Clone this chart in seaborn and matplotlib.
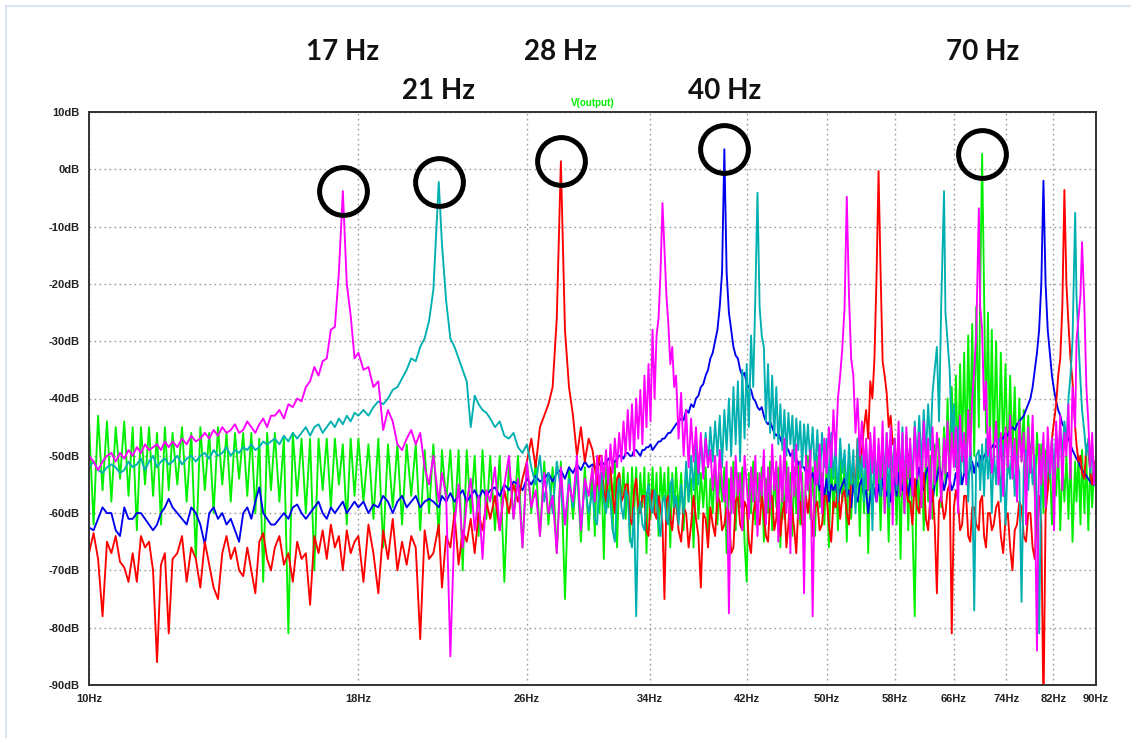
import matplotlib
matplotlib.use("Agg")
import matplotlib.pyplot as plt
from matplotlib.patches import Rectangle
from matplotlib.ticker import FixedLocator, NullLocator
import numpy as np
import pandas as pd
import seaborn as sns

# FFT bins (Hz) shared by every step
freq_hz = [
    # 10-12
    10.0, 10.1, 10.2, 10.3, 10.4, 10.5, 10.6, 10.7, 10.8, 10.9,
    11.0, 11.1, 11.2, 11.3, 11.4, 11.5, 11.6, 11.7, 11.8, 11.9,
    # 12-15
    12.0, 12.125, 12.25, 12.375, 12.5, 12.625, 12.75, 12.875, 13.0, 13.125,
    13.25, 13.375, 13.5, 13.625, 13.75, 13.875, 14.0, 14.125, 14.25, 14.375,
    14.5, 14.625, 14.75, 14.875,
    # 15-18
    15.0, 15.15, 15.3, 15.45, 15.6, 15.75, 15.9, 16.05, 16.2, 16.35,
    16.5, 16.65, 16.8, 16.95, 17.1, 17.25, 17.4, 17.55, 17.7, 17.85,
    # 18-24
    18.0, 18.2, 18.4, 18.6, 18.8, 19.0, 19.2, 19.4, 19.6, 19.8,
    20.0, 20.2, 20.4, 20.6, 20.8, 21.0, 21.2, 21.45, 21.6, 21.8,
    22.0, 22.2, 22.4, 22.6, 22.8, 23.0, 23.2, 23.4, 23.6, 23.8,
    # 24-30
    24.0, 24.25, 24.5, 24.75, 25.0, 25.25, 25.5, 25.75, 26.0, 26.25,
    26.5, 26.75, 27.0, 27.25, 27.5, 27.75, 28.0, 28.25, 28.5, 28.75,
    29.0, 29.25, 29.5, 29.75,
    # 30-36
    30.0, 30.15, 30.3, 30.45, 30.6, 30.75, 30.9, 31.05, 31.2, 31.35,
    31.5, 31.65, 31.8, 31.95, 32.1, 32.25, 32.4, 32.55, 32.7, 32.85,
    33.0, 33.15, 33.3, 33.45, 33.6, 33.75, 33.9, 34.05, 34.2, 34.35,
    34.5, 34.65, 34.8, 34.95, 35.1, 35.25, 35.4, 35.55, 35.7, 35.85,
    # 36-48
    36.0, 36.2, 36.4, 36.6, 36.8, 37.0, 37.2, 37.4, 37.6, 37.8,
    38.0, 38.2, 38.4, 38.6, 38.8, 39.0, 39.2, 39.4, 39.6, 39.8,
    40.0, 40.2, 40.4, 40.6, 40.8, 41.0, 41.2, 41.4, 41.6, 41.8,
    42.0, 42.2, 42.4, 42.6, 42.8, 43.0, 43.2, 43.4, 43.6, 43.8,
    44.0, 44.2, 44.4, 44.6, 44.8, 45.0, 45.2, 45.4, 45.6, 45.8,
    46.0, 46.2, 46.4, 46.6, 46.8, 47.0, 47.2, 47.4, 47.6, 47.8,
    # 48-60
    48.0, 48.25, 48.5, 48.75, 49.0, 49.25, 49.5, 49.75, 50.0, 50.25,
    50.5, 50.75, 51.0, 51.25, 51.5, 51.75, 52.0, 52.25, 52.5, 52.75,
    53.0, 53.25, 53.5, 53.75, 54.0, 54.25, 54.5, 54.75, 55.0, 55.25,
    55.5, 55.75, 56.0, 56.25, 56.5, 56.75, 57.0, 57.25, 57.5, 57.75,
    58.0, 58.25, 58.5, 58.75, 59.0, 59.25, 59.5, 59.75,
    # 60-72
    60.0, 60.3, 60.6, 60.9, 61.2, 61.5, 61.8, 62.1, 62.4, 62.7,
    63.0, 63.3, 63.6, 63.9, 64.2, 64.6, 64.8, 65.1, 65.4, 65.7,
    66.0, 66.3, 66.6, 66.9, 67.2, 67.5, 67.8, 68.1, 68.4, 68.7,
    69.0, 69.3, 69.7, 69.9, 70.2, 70.5, 70.8, 71.1, 71.4, 71.7,
    # 72-90
    72.0, 72.375, 72.75, 73.125, 73.5, 73.875, 74.25, 74.625, 75.0, 75.375,
    75.75, 76.125, 76.5, 76.875, 77.25, 77.625, 78.0, 78.375, 78.75, 79.125,
    79.5, 79.875, 80.25, 80.625, 81.0, 81.375, 81.75, 82.125, 82.5, 82.875,
    83.25, 83.625, 84.0, 84.375, 84.75, 85.125, 85.5, 86.0, 86.25, 86.625,
    87.0, 87.3, 87.75, 88.125, 88.5, 88.875, 89.25, 89.625, 90.0,
]

# V(output) in dB for each of the five stepped runs (same bin order as above)
green_db = [
    -44, -62, -43, -56, -44, -58, -45, -54, -44, -57, -45, -63, -45, -55, -45, -57, -46, -62, -45, -56,
    -46, -55, -45, -58, -46, -68, -45, -56, -46, -60, -45, -55, -46, -58, -46, -54, -46, -57, -46, -60,
    -47, -72, -46, -56,
    -46, -58, -47, -81, -46, -57, -47, -60, -47, -70, -47, -56, -47, -59, -47, -55, -48, -62, -47, -57,
    -47, -58, -48, -61, -47, -66, -48, -59, -48, -62, -48, -57, -48, -63, -49, -60, -48, -64, -49, -58,
    -49, -62, -49, -70, -49, -60, -50, -64, -49, -61,
    -50, -63, -50, -72, -51, -61, -50, -66, -51, -60, -51, -64, -51, -62, -52, -67, -51, -75, -52, -61,
    -52, -65, -52, -63,
    -52, -64, -51, -60, -53, -68, -52, -59, -52, -63, -51, -66, -53, -58, -52, -61, -53, -65, -52, -60,
    -52, -62, -53, -59, -52, -67, -53, -61, -52, -60, -53, -64, -52, -58, -53, -62, -52, -66, -53, -60,
    -52, -60, -53, -63, -52, -58, -54, -66, -51, -61, -53, -59, -52, -64, -54, -60, -51, -62, -53, -58,
    -52, -67, -54, -60, -51, -63, -53, -59, -52, -65, -72, -53, -60, -51, -62, -53, -58, -52, -65, -54,
    -60, -51, -63, -53, -59, -52, -66, -54, -61, -51, -58, -53, -64, -52, -60, -51, -62, -53, -67, -52,
    -50, -61, -52, -64, -50, -59, -53, -62, -51, -66, -50, -60, -52, -63, -50, -58, -51, -65, -50, -61,
    -52, -59, -50, -64, -51, -60, -50, -67, -52, -61, -50, -58, -51, -63, -50, -60, -52, -65, -50, -59,
    -51, -62, -50, -68, -51, -60, -50, -63,
    -50, -62, -78, -51, -60, -50, -63, -49, -58, -50, -61, -48, -57, -47, -59, -45, -55, -40, -52, -38,
    -50, -36, -53, -34, -49, -32, -51, -29, -47, -27, -50, -24, -45, -21, 2.7, -22, -46, -25, -49, -28,
    -50, -30, -52, -32, -49, -34, -53, -36, -50, -38, -54, -40, -51, -42, -55, -43, -52, -45, -57, -46,
    -53, -48, -60, -49, -56, -50, -62, -50, -57, -49, -63, -51, -58, -50, -61, -49, -65, -51, -58, -50,
    -62, -49, -60, -50, -63, -51, -59, -52, -56,
]
blue_db = [
    -62.5, -63, -61, -59, -60, -60, -63, -64, -59, -61, -61, -60, -60, -61, -62, -63, -62, -60, -59, -57.5,
    -59, -60, -61, -62, -59, -60, -62, -65.5, -60, -59, -61, -60, -62, -61, -63, -65, -60, -59, -61, -58,
    -55.5, -60, -61, -62,
    -62, -61, -60, -61, -59, -58.5, -60, -61, -60, -59, -58, -60, -61, -59, -60, -59, -58, -60, -59, -58,
    -59, -58, -60, -58.5, -59, -57, -58, -60, -58, -57, -59, -58, -57, -59, -58, -57.5, -58, -59, -57, -58,
    -56.5, -58, -57, -56, -58, -57, -56, -57.5, -56, -57,
    -56, -55.5, -57, -55, -56, -54.5, -55, -56, -54, -55, -53.5, -54.5, -54, -53, -54.5, -53, -52.5, -54, -52, -53,
    -51.5, -52.5, -51, -52,
    -51.5, -52, -52, -51.5, -51, -51.5, -51.5, -50.5, -50.5, -51, -51, -50.5, -50, -50, -50.5, -49.5, -49.5, -50, -50, -49,
    -49, -49.5, -50, -49, -49, -48.5, -48.5, -48, -49, -48.5, -48, -47.5, -47.5, -47, -47, -46.5, -46, -46, -45.5, -45,
    -44.5, -44, -43.5, -43.8, -42, -42.5, -41, -41.5, -40, -39.5, -38, -37.5, -36, -35, -33, -32, -30, -28, -24, -18,
    3.5, -18, -25, -28, -31, -32.5, -33, -35, -36, -35.5, -37.5, -38, -38.5, -40, -40.5, -41.5, -42, -41.5, -43, -44,
    -44.5, -44, -45, -46, -46.5, -46, -47, -48, -48, -48.5, -49, -50, -49.5, -50.5, -50.5, -51.5, -51, -52, -52, -53,
    -52.5, -54, -53, -55, -53, -56, -54, -57, -54, -58, -55, -56, -55, -58, -56, -55, -54, -57, -56, -59,
    -55, -57, -58, -55, -54, -57, -56, -60, -57, -55, -56, -58, -55, -57, -54, -56, -57, -55, -58, -56,
    -54, -57, -53, -55, -56, -54, -55, -57,
    -54, -56, -57, -54, -52, -55, -56, -53, -52, -55, -58, -55, -54, -52, -53, -56, -55, -53, -54, -56,
    -55, -53, -54, -52, -55, -53, -52, -54, -52, -51, -53, -51, -52, -50, -51, -50, -49.5, -50, -49, -48.5,
    -48, -48.5, -47.5, -47, -47, -46, -46.5, -45.5, -45, -45.5, -44.5, -44, -43.5, -43, -42, -41, -40, -38, -35, -32,
    -28, -20, -2, -20, -28, -32, -36, -38.5, -40.5, -42, -43, -44.5, -45, -46.5, -47, -48, -49, -50, -50.5, -51,
    -52, -52.5, -53, -53.5, -54, -54.5, -55, -55, -55,
]
red_db = [
    -67, -63.5, -68, -78, -65, -67, -64, -68.5, -69.5, -72, -67, -72, -64, -66, -65, -70, -86, -69, -67, -81,
    -68, -67, -64, -72, -66, -68, -73, -65, -69, -73, -75, -67, -64, -68, -66, -70, -71, -66, -70, -74,
    -65, -63.5, -68, -70,
    -66, -64, -69, -67, -72, -65, -68, -67, -76, -64, -67, -63, -68, -62, -66, -64, -70, -63, -67, -65,
    -64, -72, -62, -67, -74, -63, -68, -61, -70, -65, -69, -64, -66, -82, -63, -68, -67, -62, -73, -64,
    -66, -60, -69, -63, -65, -61, -67, -60, -63, -58,
    -61, -57, -63, -56, -60, -55, -58, -54, -51, -47, -52, -45, -43, -41, -38, -26, 1.4, -28, -38, -43,
    -50, -45, -51, -47,
    -49, -52, -55, -50, -50, -56, -58, -53, -52, -57, -60, -54, -53, -58, -57, -55, -55, -61, -62, -56,
    -54, -59, -60, -57, -57, -63, -64, -58, -56, -60, -61, -57, -59, -62, -75, -58, -57, -61, -63, -59,
    -58, -63, -65, -59, -60, -66, -62, -57, -61, -64, -73, -60, -61, -66, -59, -62, -64, -57, -58, -63,
    -62, -59, -60, -67, -66, -58, -57, -62, -63, -58, -59, -65, -67, -60, -58, -61, -62, -57, -60, -64,
    -65, -58, -57, -63, -61, -56, -64, -60, -58, -66, -62, -57, -60, -63, -67, -59, -58, -62, -63, -57,
    -60, -56, -64, -59, -58, -63, -62, -57, -57, -62, -65, -58, -59, -55, -61, -57, -56, -60, -62, -54,
    -52, -56, -47, -52, -49, -45, -42, -47, -37, -40, -33, -19, -0.3, -18, -33.5, -36, -39, -45, -43, -48,
    -47, -52, -48, -55, -53, -51, -56, -58,
    -58, -62, -54, -59, -60, -55, -53, -61, -63, -57, -56, -62, -74, -58, -57, -61, -60, -56, -55, -81,
    -59, -56, -58, -63, -62, -57, -57, -64, -65, -59, -59, -62, -63, -58, -57, -64, -66, -60, -60, -63,
    -62, -59, -58, -64, -67, -61, -60, -66, -70, -63, -62, -58, -59, -64, -65, -60, -60, -66, -68, -59,
    -57, -62, -95, -60, -56, -52, -47, -44, -41, -36, -33, -24, -3.6, -20, -27, -33, -37, -45, -48, -51,
    -50, -53, -54, -48, -49, -53, -55, -51, -53,
]
cyan_db = [
    -52, -51, -52.5, -53, -52, -51.5, -52, -53, -52.5, -51, -52, -51.5, -50.5, -52.5, -51, -50, -52, -51, -50.5, -51.5,
    -51, -50, -51.5, -50.5, -50, -51, -50, -49.5, -50.5, -49, -50, -49.5, -48.5, -50, -49, -49.5, -48.5, -49, -48, -49,
    -48.5, -47.5, -48, -47.5,
    -47, -48, -46.5, -47.5, -46, -47, -46, -45, -46.5, -45, -44.5, -46, -45, -44, -45, -43.5, -44.5, -43, -44, -42.5,
    -43, -42, -43, -41.5, -40.5, -41, -40, -38.5, -38, -36.5, -35, -33, -33.5, -31, -29.5, -26.5, -21, -2.2, -13, -23,
    -29.5, -31, -33, -35, -37, -45, -39.5, -41, -42, -42.5,
    -43.5, -45, -44, -46.5, -47, -46, -48.5, -49.5, -48, -52, -55, -50, -58, -53, -60, -51, -56, -62, -54, -59,
    -52, -63, -55, -60,
    -56, -61, -62, -55, -53, -58, -60, -56, -58, -63, -65, -57, -54, -59, -61, -56, -57, -64, -66, -59,
    -78, -60, -58, -62, -63, -57, -55, -59, -60, -56, -57, -62, -64, -58, -57, -61, -62, -55, -54, -59,
    -57, -62, -55, -60, -51, -58, -50, -56, -48, -55, -47, -53, -46, -52, -45, -51, -44, -50, -43, -52,
    -42, -49, -40, -50, -38, -48, -37, -51, -35, -47, -34, -45, -29, -38, -22, -4.1, -24, -29, -31, -44,
    -34, -46, -36, -47, -38, -48, -41, -49, -42, -50, -42.5, -48, -43, -51, -43.5, -49, -44, -52, -44.5, -50,
    -44.5, -51, -45, -53, -45.5, -55, -46, -52, -47, -56, -46, -54, -48, -58, -47, -53, -49, -57, -48, -55,
    -49, -60, -47, -54, -50, -58, -48, -56, -47, -63, -49, -55, -48, -57, -47, -54, -46, -59, -48, -53,
    -47, -56, -46, -55, -45, -58, -46, -53,
    -48, -54, -44, -51, -43, -52, -42, -50, -41, -49, -39, -35, -31, -44, -24, -3.8, -25, -30, -35, -47,
    -41, -52, -45, -55, -46, -53, -48, -58, -47, -54, -77, -50, -49, -56, -48, -57, -47, -54, -49, -60,
    -49, -55, -47, -58, -48, -62, -50, -54, -48, -57, -50, -53, -75.5, -52, -49, -56, -48, -55, -50, -58,
    -81, -52, -50, -56, -48, -54, -47, -53, -46, -51, -45, -50, -44, -48, -40, -36, -30, -7.6, -22, -30,
    -37, -42, -46, -50, -47, -53, -48, -55, -51,
]
magenta_db = [
    -50, -51, -52.5, -51, -50, -49.5, -51, -49.5, -50.5, -49, -50, -48.5, -49.5, -48, -49, -48.5, -48, -49, -47.5, -48.5,
    -47.5, -48.5, -47, -48, -46.5, -47.5, -47, -46, -47, -45.5, -46.5, -45, -46, -45.5, -44.5, -46, -45.5, -44, -45, -46,
    -44.5, -43.5, -45, -43,
    -43, -42, -43.5, -41, -41.5, -40, -40.5, -38, -37, -34.5, -36, -33.5, -33, -28, -27.5, -18, -3.8, -20, -25.5, -33,
    -32, -35, -34.5, -38, -37, -45.5, -42, -44, -48, -49, -47, -45.5, -48, -46, -52, -55, -50, -58, -53, -57,
    -85, -62, -55, -66, -58, -54, -63, -57, -68, -56,
    -58, -52, -63, -55, -50, -61, -54, -66, -51, -59, -56, -64, -53, -60, -57, -67, -52, -62, -55, -58,
    -50, -63, -54, -57,
    -52, -58, -50, -56, -50, -54, -49, -55, -48, -53, -47, -52, -46, -51, -44, -50, -42, -49, -41, -50,
    -40, -47, -38.5, -48, -36, -45, -34, -44, -28, -40, -29, -26, -18, -5.9, -14, -22, -27, -34, -31, -38,
    -36, -47, -39, -50, -42, -52, -43.5, -51, -45, -53, -46, -54, -47, -52, -49, -56, -50, -58, -49, -55,
    -58, -51, -77.5, -52, -60, -50, -57, -53, -63, -50, -55, -61, -52, -58, -50, -64, -53, -57, -49, -62,
    -52, -59, -48, -56, -51, -65, -50, -58, -47, -60, -52, -67, -49, -57, -48, -61, -51, -56, -74, -50,
    -56, -49, -78, -51, -55, -48, -60, -47, -53, -45, -52, -42, -50, -40, -36, -31, -24, -4.8, -22, -33,
    -36, -46, -40, -50, -44, -52, -47, -56, -46, -53, -45, -58, -47, -54, -44, -60, -46, -52, -45, -62,
    -47, -55, -44, -57, -46, -60, -45, -54,
    -47, -57, -45, -54, -46, -59, -44, -52, -47, -61, -45, -55, -46, -50, -58, -47, -53, -44, -56, -46,
    -52, -45, -60, -43, -51, -46, -55, -42, -50, -40, -35, -29, -6.8, -24, -28, -42, -37, -50, -45, -53,
    -50, -44, -55, -46, -57, -45, -52, -43, -54, -47, -58, -44, -51, -46, -62, -45, -53, -43, -56, -84,
    -48, -55, -46, -59, -45, -53, -47, -63, -44, -52, -43, -56, -46, -50, -41, -54, -38, -45, -30, -26,
    -22, -12.7, -24, -38, -44, -52, -46, -55, -50,
]

step_names = ["green", "blue", "red", "cyan", "magenta"]
step_colors = {"green": "#00f000", "blue": "#0000f0", "red": "#ff0000",
               "cyan": "#00b0b0", "magenta": "#ff00ff"}
label_row = {"green": 0, "blue": 1, "red": 0, "cyan": 1, "magenta": 0}
row_y = [1.105, 1.037]

xtick_hz = [10, 18, 26, 34, 42, 50, 58, 66, 74, 82, 90]
ytick_db = [-90, -80, -70, -60, -50, -40, -30, -20, -10, 0, 10]

series = {"green": green_db, "blue": blue_db, "red": red_db,
          "cyan": cyan_db, "magenta": magenta_db}
for name, vals in series.items():
    if len(vals) != len(freq_hz):
        raise SystemExit(f"{name}: {len(vals)} values vs {len(freq_hz)} bins")

df = pd.concat(
    [pd.DataFrame({"hz": freq_hz, "db": vals, "step": name}) for name, vals in series.items()],
    ignore_index=True,
)

sns.set_style("white")
plt.rcParams["font.family"] = ["Liberation Sans", "DejaVu Sans"]

fig = plt.figure(figsize=(11.31, 7.38), dpi=100)
fig.patches.append(Rectangle((6, -20), 1300, 738 - 6 + 20, transform=None,
                             fill=False, edgecolor="#dde5f2", linewidth=1.5))
ax = fig.add_axes([89 / 1131, 53 / 738, 1007 / 1131, 573 / 738])

sns.lineplot(data=df, x="hz", y="db", hue="step", hue_order=step_names,
             palette=step_colors, estimator=None, sort=False, legend=False,
             linewidth=1.35, ax=ax)

ax.set_xscale("log")
ax.set_xlim(10, 90)
ax.set_ylim(-90, 10)
ax.xaxis.set_major_locator(FixedLocator(xtick_hz))
ax.xaxis.set_minor_locator(NullLocator())
ax.set_xticklabels([f"{v}Hz" for v in xtick_hz], fontweight="bold", fontsize=8)
ax.set_yticks(ytick_db)
ax.set_yticklabels([f"{v}dB" for v in ytick_db], fontweight="bold", fontsize=8)
ax.tick_params(axis="both", direction="out", length=5, width=1.3,
               color="#333333", labelcolor="#222222", pad=1.5)
ax.set_xlabel("")
ax.set_ylabel("")
ax.grid(True, color="#9a9a9a", linestyle=(0, (1.2, 2.4)), linewidth=1.0)
ax.set_axisbelow(True)
for sp in ax.spines.values():
    sp.set_color("#333333")
    sp.set_linewidth(1.4)

# circle the strongest peak of each step and name it
for name, vals in series.items():
    i = int(np.argmax(vals))
    hz, db = freq_hz[i], vals[i]
    ax.plot([hz], [db], marker="o", markersize=34.4, markerfacecolor="none",
            markeredgecolor="black", markeredgewidth=3.6, zorder=6, clip_on=False)
    ax.text(hz, row_y[label_row[name]], f"{hz:.0f} Hz", transform=ax.get_xaxis_transform(),
            ha="center", va="center", fontsize=20, fontweight="bold", family="Lato",
            color="#111111", clip_on=False)

ax.text(0.5, 1.016, "V(output)", transform=ax.transAxes, ha="center", va="center",
        fontsize=7, fontweight="bold", color="#00f000")

fig.savefig("out.png", dpi=100)
